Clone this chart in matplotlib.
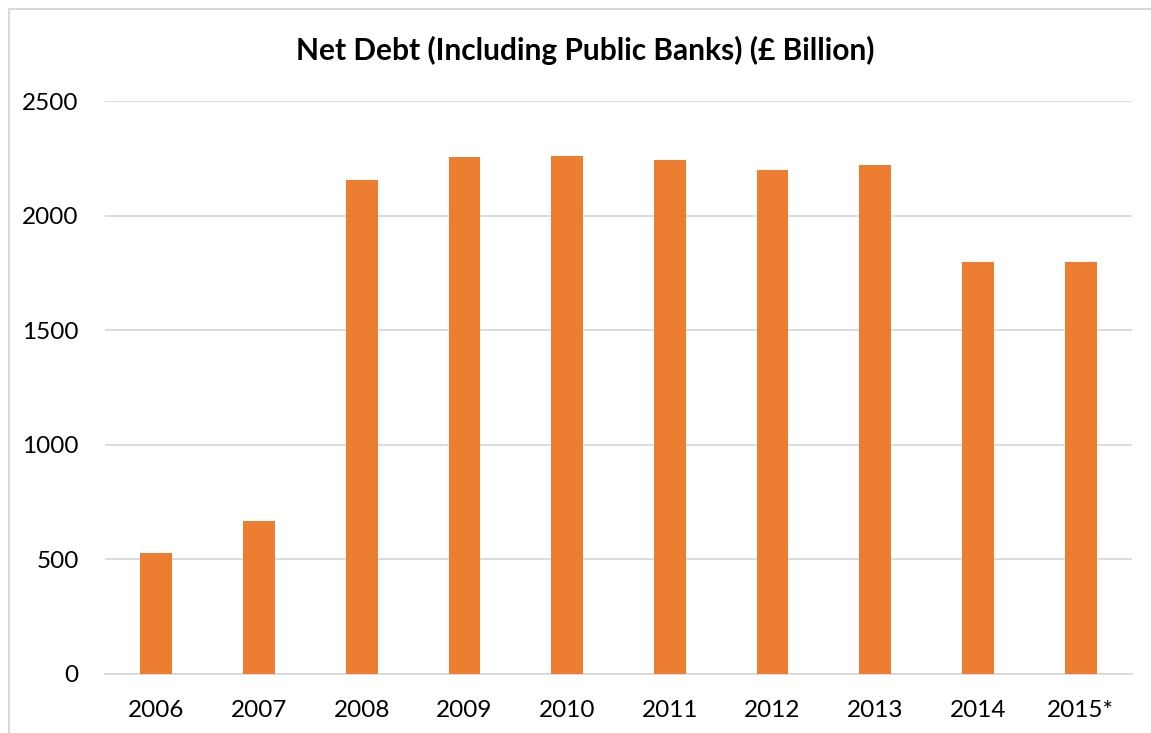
import matplotlib
matplotlib.use("Agg")
import matplotlib.pyplot as plt
from matplotlib.patches import Rectangle

years = ["2006", "2007", "2008", "2009", "2010", "2011", "2012", "2013", "2014", "2015*"]
net_debt = [528, 667, 2155, 2256, 2260, 2243, 2199, 2221, 1798, 1798]

plt.rcParams["font.family"] = ["Lato", "DejaVu Sans"]

W, H = 1151, 733
fig = plt.figure(figsize=(W / 100, H / 100), dpi=100)
ax = fig.add_axes([105 / W, 1 - 674 / H, (1132 - 105) / W, (674 - 101) / H])

x = range(len(years))
ax.bar(x, net_debt, width=0.31, color="#ED7D31", zorder=3)

ax.set_xlim(-0.5, len(years) - 0.5)
ax.set_ylim(0, 2500)
ax.set_yticks(range(0, 2501, 500))
ax.set_xticks(list(x))
ax.set_xticklabels(years)
ax.tick_params(axis="both", length=0, labelsize=17.5, colors="#000000")
ax.tick_params(axis="y", pad=19)
ax.tick_params(axis="x", pad=19)
ax.grid(axis="y", color="#D9D9D9", lw=1.3, zorder=0)
for s in ["top", "right", "left"]:
    ax.spines[s].set_visible(False)
ax.spines["bottom"].set_color("#D9D9D9")
ax.spines["bottom"].set_linewidth(1.3)

fig.text(585 / W, 1 - 50 / H, "Net Debt (Including Public Banks) (£ Billion)",
         ha="center", va="center", fontsize=21.5, fontweight="bold")

# chart border (cropped on the right and bottom)
fig.patches.append(Rectangle((9 / W, -0.05), 1.1, 1 - 9 / H + 0.05,
                             transform=fig.transFigure, fill=False,
                             edgecolor="#D9D9D9", lw=1.5))

fig.savefig("out.png", dpi=100)
